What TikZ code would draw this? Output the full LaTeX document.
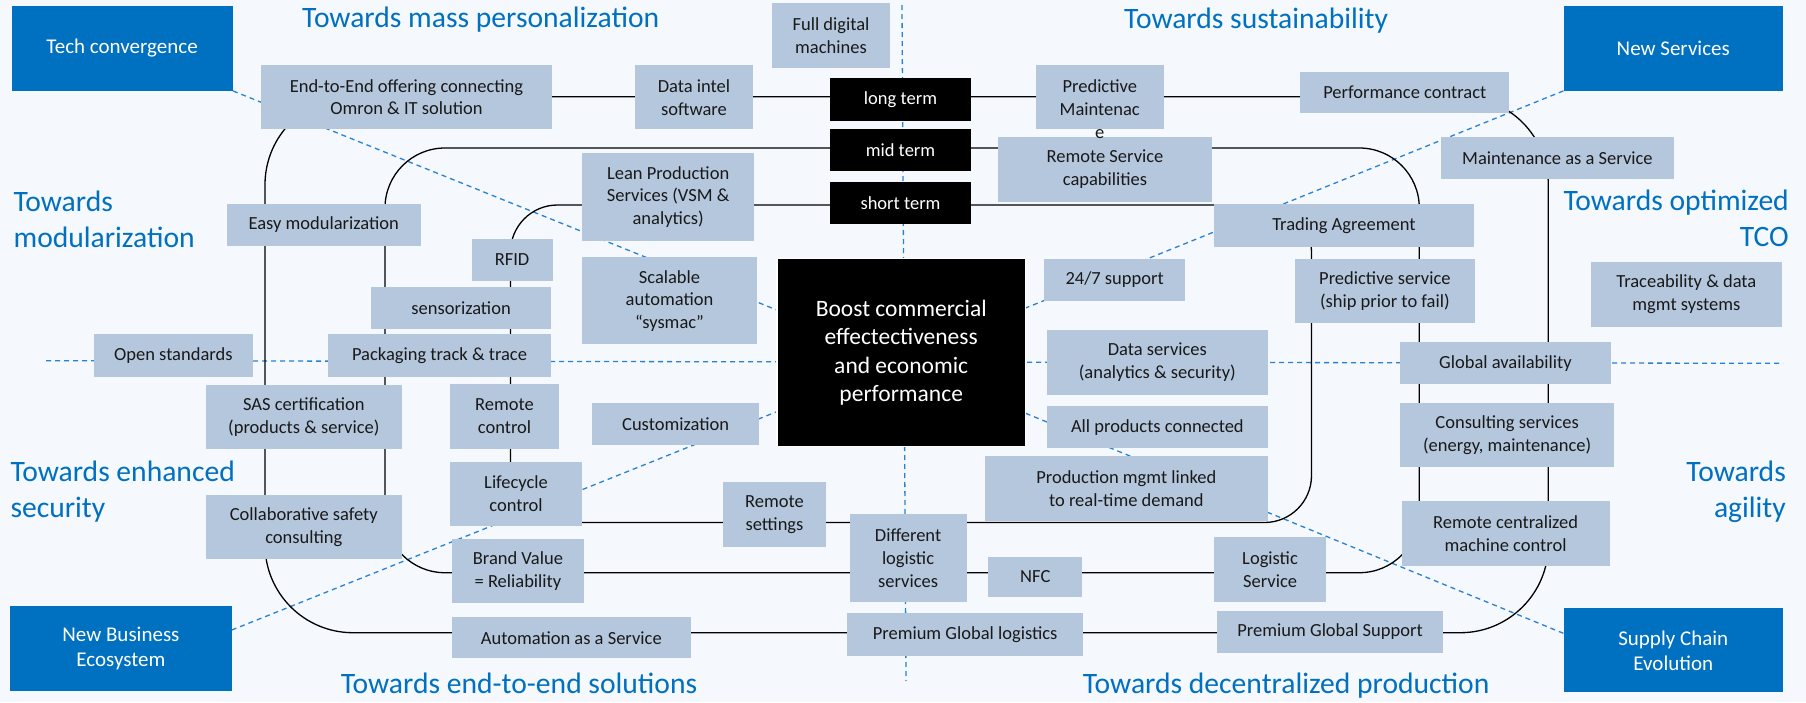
\documentclass[tikz,border=0pt]{standalone}
\usepackage{fontspec}
\setmainfont{Carlito}
\definecolor{bg}{RGB}{245,248,252}
\definecolor{boxc}{RGB}{181,199,221}
\definecolor{bluec}{RGB}{0,112,192}
\definecolor{dashc}{RGB}{40,130,212}
\definecolor{txt}{RGB}{25,25,25}
\newcommand\bxfont{\fontsize{18.5}{22.7}\selectfont}
\newcommand\ttlfont{\fontsize{29.6}{35.5}\selectfont}
\newcommand\blfont{\fontsize{21}{25}\selectfont}
\newcommand\ctrfont{\fontsize{23.5}{28.5}\selectfont}
\newcommand\bx[7][lbox]{\node[#1, minimum width={(#5-#3)*1pt}, minimum height={(#6-#4)*1pt}] (#2) at ({(#3+#5)/2},{(#4+#6)/2}) {#7};}
\tikzset{
  lbox/.style={fill=boxc, inner sep=0pt, align=center, font=\bxfont, text=txt},
  termbox/.style={fill=black, inner sep=0pt, align=center, font=\bxfont, text=white},
  ctrbox/.style={fill=black, draw=white, line width=1.5pt, inner sep=0pt, align=center, font=\ctrfont, text=white},
  bluebox/.style={fill=bluec, inner sep=0pt, align=center, font=\blfont, text=white},
  ttl/.style={text=bluec, font=\ttlfont, inner sep=0pt},
  ln/.style={draw=black, line width=1.3pt},
  dsh/.style={draw=dashc, line width=1.3pt, dash pattern=on 5pt off 4pt},
  plain/.style={inner sep=0pt, align=center, font=\bxfont, text=txt}
}
\begin{document}
\begin{tikzpicture}[x=1pt,y=-1pt]
\useasboundingbox (0,0) rectangle (1806,702);
\fill[bg] (0,0) rectangle (1806,702);

% axes
\coordinate (hl) at (46,360.7);
\coordinate (hr) at (1783,363.3);
\coordinate (vt) at (902,5);
\coordinate (vb) at (906,681);
\draw[dsh] (hl) -- (hr);
\draw[dsh] (vt) -- (vb);

% blue corner boxes and centre
\bx[bluebox]{tech}{11.5}{6}{232.7}{90.7}{Tech convergence}
\bx[bluebox]{nsv}{1563.6}{6}{1782.9}{90.7}{New Services}
\bx[bluebox]{nbe}{10.3}{606}{231.5}{690.7}{New Business\\Ecosystem}
\bx[bluebox]{sce}{1563.6}{608.3}{1782.9}{692.3}{Supply Chain\\Evolution}

\draw[dsh] (tech.south east) -- (776.8,310) coordinate (cl1);
\draw[dsh] (nsv.south west) -- (1025.6,308) coordinate (cr1);
\draw[dsh] ([yshift=18.3pt]nbe.east) -- (776.8,411.7) coordinate (cl2);
\draw[dsh] ([yshift=17pt]sce.west) -- (1025.6,413.3) coordinate (cr2);

% rounded time horizons
\draw[ln, rounded corners=88pt] (265,96.7) rectangle (1548.3,632.7);
\draw[ln, rounded corners=60pt] (385,148) rectangle (1419.3,572.7);
\draw[ln, rounded corners=47pt] (510.5,205) rectangle (1311.5,522.5);

\bx[ctrbox]{ctr}{776.8}{258.3}{1025.6}{446.7}{Boost commercial\\effectectiveness\\and economic\\performance}

\bx[termbox]{lt}{830}{78.3}{971}{120.7}{long term}
\bx[termbox]{mt}{830}{129.3}{971}{170.7}{mid term}
\bx[termbox]{st}{830}{182.3}{971}{224.3}{short term}

\bx{e2e}{261}{65}{552}{129.3}{End-to-End offering connecting\\Omron \& IT solution}
\bx{fdm}{772}{3.3}{890}{67.7}{Full digital\\machines}
\bx{dis}{635}{65.3}{753}{129.3}{Data intel\\software}
\bx{pm}{1035.5}{65.3}{1164}{129.3}{}
\bx{perf}{1300.3}{72}{1509.2}{113.3}{Performance contract}
\bx{rsc}{998}{136.7}{1212}{201.7}{Remote Service\\capabilities}
\bx{lean}{582.3}{153.3}{754}{240.7}{Lean Production\\Services (VSM \&\\analytics)}
\bx{maas}{1441}{136.7}{1673.8}{178.7}{Maintenance as a Service}
\bx{trade}{1213.8}{204}{1474}{246.7}{Trading Agreement}
\bx{easy}{226.6}{204}{421}{245.7}{Easy modularization}
\bx{rfid}{471.5}{239.3}{552.6}{280.7}{RFID}
\bx{scal}{582.3}{257.3}{756.7}{344.3}{Scalable\\automation\\“sysmac”}
\bx{sup}{1044.3}{259.3}{1185}{300.7}{24/7 support}
\bx{preds}{1294.9}{259.3}{1474.8}{323.3}{Predictive service\\(ship prior to fail)}
\bx{trace}{1591}{262.3}{1781.7}{326.7}{Traceability \& data\\mgmt systems}
\bx{sens}{371.2}{287.3}{551}{329}{sensorization}
\bx{open}{94.1}{334}{252.6}{376.7}{Open standards}
\bx{pack}{328}{334}{551}{376.7}{Packaging track \& trace}
\bx{data}{1047}{330}{1267.7}{394.7}{Data services\\(analytics \& security)}
\bx{glob}{1400.2}{342.3}{1610.6}{384.3}{Global availability}
\bx{sas}{205.9}{385}{401.8}{449.3}{SAS certification\\(products \& service)}
\bx{remc}{450.4}{384}{558.7}{448.7}{Remote\\control}
\bx{cust}{592}{403.3}{759.2}{445}{Customization}
\bx{allp}{1047}{406}{1267.7}{448.3}{All products connected}
\bx{cons}{1400.2}{403.3}{1614}{467.3}{Consulting services\\(energy, maintenance)}
\bx{prod}{985}{456}{1267.7}{520.7}{Production mgmt linked\\to real-time demand}
\bx{life}{450.4}{461.7}{581.7}{525.7}{Lifecycle\\control}
\bx{rems}{723.2}{482.3}{825.8}{546.7}{Remote\\settings}
\bx{collab}{205.9}{495}{401.8}{559.3}{Collaborative safety\\consulting}
\bx{rcmc}{1401.7}{501}{1609.5}{565.7}{Remote centralized\\machine control}
\bx{diff}{849.5}{514.3}{966.6}{601.7}{Different\\logistic\\services}
\bx{logs}{1213.8}{537.3}{1326.3}{601.7}{Logistic\\Service}
\bx{brand}{452.3}{539.3}{583.6}{603.3}{Brand Value\\= Reliability}
\bx{nfc}{988.4}{556.7}{1082.2}{597.3}{NFC}
\bx{pgs}{1216.8}{611}{1443.4}{652.7}{Premium Global Support}
\bx{pgl}{847.2}{613.3}{1083}{655.7}{Premium Global logistics}
\bx{aaas}{451.6}{617.3}{691}{658.3}{Automation as a Service}

\node[plain] (pmt) at (1099.75,109) {Predictive\\Maintenac\\e};

% titles
\node[ttl, anchor=base west] (t1) at (302,27.7) {Towards mass personalization};
\node[ttl, anchor=base west] (t2) at (1124,28) {Towards sustainability};
\node[ttl, anchor=base west] (t3) at (13.4,211.7) {\begin{tabular}[t]{@{}l@{}}Towards\\modularization\end{tabular}};
\node[ttl, anchor=base east] (t4) at (1789,210.7) {\begin{tabular}[t]{@{}r@{}}Towards optimized\\TCO\end{tabular}};
\node[ttl, anchor=base west] (t5) at (10.3,481.7) {\begin{tabular}[t]{@{}l@{}}Towards enhanced\\security\end{tabular}};
\node[ttl, anchor=base east] (t6) at (1786,481.7) {\begin{tabular}[t]{@{}r@{}}Towards\\agility\end{tabular}};
\node[ttl, anchor=base west] (t7) at (340.6,693.3) {Towards end-to-end solutions};
\node[ttl, anchor=base west] (t8) at (1082.7,693.3) {Towards decentralized production};
\end{tikzpicture}
\end{document}
